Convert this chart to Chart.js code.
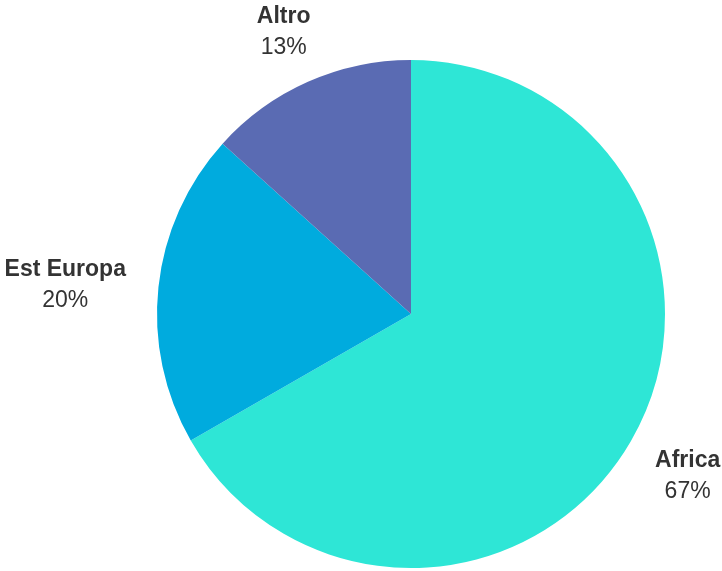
<!DOCTYPE html>
<html>
<head>
<meta charset="utf-8">
<script src="https://cdn.jsdelivr.net/npm/chart.js@4"></script>
<style>
  html, body { margin: 0; padding: 0; background: #ffffff; }
  #wrap { width: 722px; height: 571px; position: relative; }
</style>
</head>
<body>
<div id="wrap"><canvas id="c"></canvas></div>
<script>
const categories = ['Africa', 'Est Europa', 'Altro'];
const values = [66.7, 20.0, 13.3];
const colors = ['#2EE6D6', '#00ABDE', '#5A6BB3'];

const outerLabels = {
  id: 'outerLabels',
  afterDatasetsDraw(chart) {
    const ctx = chart.ctx;
    const meta = chart.getDatasetMeta(0);
    const total = values.reduce((a, b) => a + b, 0);
    const fontSize = 23;
    const lineH = 31;
    meta.data.forEach((arc, i) => {
      const mid = (arc.startAngle + arc.endAngle) / 2;
      const r = arc.outerRadius * 1.13;
      const cosA = Math.cos(mid), sinA = Math.sin(mid);
      const ax = arc.x + r * cosA;
      const ay = arc.y + r * sinA;
      const name = categories[i];
      const pct = Math.round(values[i] / total * 100) + '%';
      ctx.save();
      ctx.font = 'bold ' + fontSize + 'px "Liberation Sans", Arial, sans-serif';
      const w1 = ctx.measureText(name).width;
      ctx.font = fontSize + 'px "Liberation Sans", Arial, sans-serif';
      const w2 = ctx.measureText(pct).width;
      const w = Math.max(w1, w2);
      const h = lineH + fontSize;
      const cx = ax + cosA * w / 2;
      const cy = ay + sinA * h / 2 + 5;
      ctx.fillStyle = '#333333';
      ctx.textAlign = 'center';
      ctx.textBaseline = 'middle';
      ctx.font = 'bold ' + fontSize + 'px "Liberation Sans", Arial, sans-serif';
      ctx.fillText(name, cx, cy - lineH / 2);
      ctx.font = fontSize + 'px "Liberation Sans", Arial, sans-serif';
      ctx.fillText(pct, cx, cy + lineH / 2);
      ctx.restore();
    });
  }
};

new Chart(document.getElementById('c'), {
  type: 'pie',
  data: {
    labels: categories,
    datasets: [{
      data: values,
      backgroundColor: colors,
      borderWidth: 0
    }]
  },
  options: {
    responsive: true,
    maintainAspectRatio: false,
    animation: false,
    layout: { padding: { top: 60, bottom: 3, left: 157, right: 57 } },
    plugins: {
      legend: { display: false },
      tooltip: { enabled: false }
    }
  },
  plugins: [outerLabels]
});
</script>
</body>
</html>
